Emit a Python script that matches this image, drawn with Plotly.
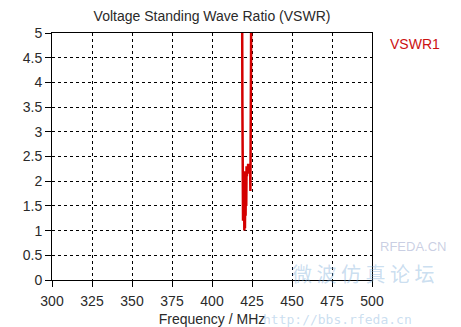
import plotly.graph_objects as go

# VSWR sweep around the resonance (MHz, ratio)
freq_mhz = [300, 380, 410, 416, 418.0, 418.8, 419.0, 419.2, 419.4, 419.6, 419.8,
            420.0, 420.2, 420.4, 420.6, 420.8, 421.0, 421.2, 421.4, 421.6, 421.8,
            422.0, 422.3, 422.6, 422.9, 423.2, 423.5, 423.8, 424.0, 424.2, 424.4,
            424.6, 425.5, 430, 460, 500]
vswr = [60, 50, 30, 15, 9.0, 6.0, 3.5, 1.5, 1.2, 2.1, 1.3,
        2.2, 1.0, 1.8, 1.05, 2.1, 1.3, 2.2, 1.5, 2.3, 2.1,
        2.3, 2.15, 2.35, 2.2, 2.3, 2.25, 2.35, 1.8, 2.6, 4.5,
        7.0, 15, 30, 50, 60]

x_ticks = [300, 325, 350, 375, 400, 425, 450, 475, 500]
y_ticks = [0, 0.5, 1, 1.5, 2, 2.5, 3, 3.5, 4, 4.5, 5]
y_tick_text = ["0", "0.5", "1", "1.5", "2", "2.5", "3", "3.5", "4", "4.5", "5"]

font_main = "Liberation Sans, Arial, sans-serif"
text_color = "#2a2a2a"

fig = go.Figure()
fig.add_trace(go.Scatter(
    x=freq_mhz, y=vswr, mode="lines", name="VSWR1",
    line=dict(color="#d40000", width=2.5),
    showlegend=False,
))

axis_common = dict(
    showline=True, linecolor="black", linewidth=1, mirror=True,
    ticks="outside", ticklen=6, tickcolor="black", tickwidth=1,
    showgrid=True, gridcolor="black", gridwidth=1, griddash="3px,3px",
    zeroline=False, automargin=False,
    tickfont=dict(family=font_main, size=14, color=text_color),
)

fig.update_xaxes(
    range=[300, 500], tickvals=x_ticks, ticklabelstandoff=2,
    title=dict(text="Frequency / MHz", standoff=7,
               font=dict(family=font_main, size=14, color=text_color)),
    **axis_common,
)
fig.update_yaxes(
    range=[0, 5], tickvals=y_ticks, ticktext=y_tick_text,
    **axis_common,
)

# light site watermark
wm_color = "rgba(120,170,215,0.40)"

annotations = [
    dict(text="VSWR1", xref="paper", yref="paper", x=1.05, y=0.955,
         xanchor="left", yanchor="middle", showarrow=False,
         font=dict(family=font_main, size=14, color="#cc1111")),
    dict(text="微 波 仿 真 论 坛", xref="paper", yref="paper", x=1.2, y=0.025,
         xanchor="right", yanchor="middle", showarrow=False,
         font=dict(family="Noto Sans CJK SC", size=20, color=wm_color)),
    dict(text="http://bbs.rfeda.cn", xref="paper", yref="paper", x=1.13, y=-0.16,
         xanchor="right", yanchor="middle", showarrow=False,
         font=dict(family="DejaVu Sans Mono", size=13, color=wm_color)),
    dict(text="RFEDA.CN", xref="paper", yref="paper", x=1.02, y=0.135,
         xanchor="left", yanchor="middle", showarrow=False,
         font=dict(family=font_main, size=13, color="rgba(150,160,200,0.5)")),
]

fig.update_layout(
    width=461, height=327,
    margin=dict(l=52, r=89, t=33, b=47),
    paper_bgcolor="white", plot_bgcolor="white",
    title=dict(text="Voltage Standing Wave Ratio (VSWR)", x=212 / 461, xanchor="center",
               y=1 - 16 / 327, yanchor="middle",
               font=dict(family=font_main, size=14, color=text_color)),
    annotations=annotations,
)

fig.write_html("out.html")
